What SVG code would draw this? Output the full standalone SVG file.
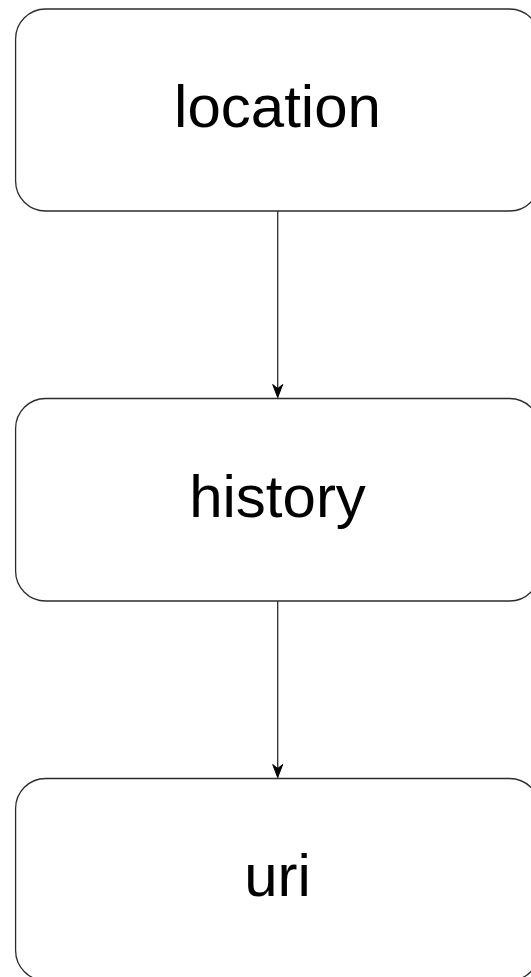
<svg xmlns="http://www.w3.org/2000/svg" width="531" height="977" viewBox="0 0 531 977">
<style>
.box{fill:#ffffff;stroke:#2b2b2b;stroke-width:1.3}
.lbl{font-family:"Liberation Sans",Arial,Helvetica,sans-serif;font-size:60px;fill:#000000;text-anchor:middle}
.edge{fill:none;stroke:#2b2b2b;stroke-width:1.3}
</style>
<defs>
<marker id="arrow" markerUnits="userSpaceOnUse" markerWidth="16" markerHeight="12" viewBox="-14 -6 16 12" refX="0" refY="0" orient="auto">
<path d="M0,0 L-13,-5 L-9,0 L-13,5 Z" fill="#000000" stroke="#000000" stroke-width="1"/>
</marker>
</defs>
<rect width="531" height="977" fill="#ffffff"/>
<g id="connectors">
<line class="edge" x1="277.7" y1="211" x2="277.7" y2="397.5" marker-end="url(#arrow)"/>
<line class="edge" x1="277.7" y1="601" x2="277.7" y2="777.5" marker-end="url(#arrow)"/>
</g>
<g id="node-location">
<rect class="box" x="15.6" y="9" width="524" height="202" rx="30" ry="30"/>
<text class="lbl" x="277.5" y="127">location</text>
</g>
<g id="node-history">
<rect class="box" x="15.6" y="398.5" width="524" height="202.5" rx="30" ry="30"/>
<text class="lbl" x="277.5" y="516.5">history</text>
</g>
<g id="node-uri">
<rect class="box" x="15.6" y="778.5" width="524" height="202" rx="30" ry="30"/>
<text class="lbl" x="277.5" y="896">uri</text>
</g>
</svg>
